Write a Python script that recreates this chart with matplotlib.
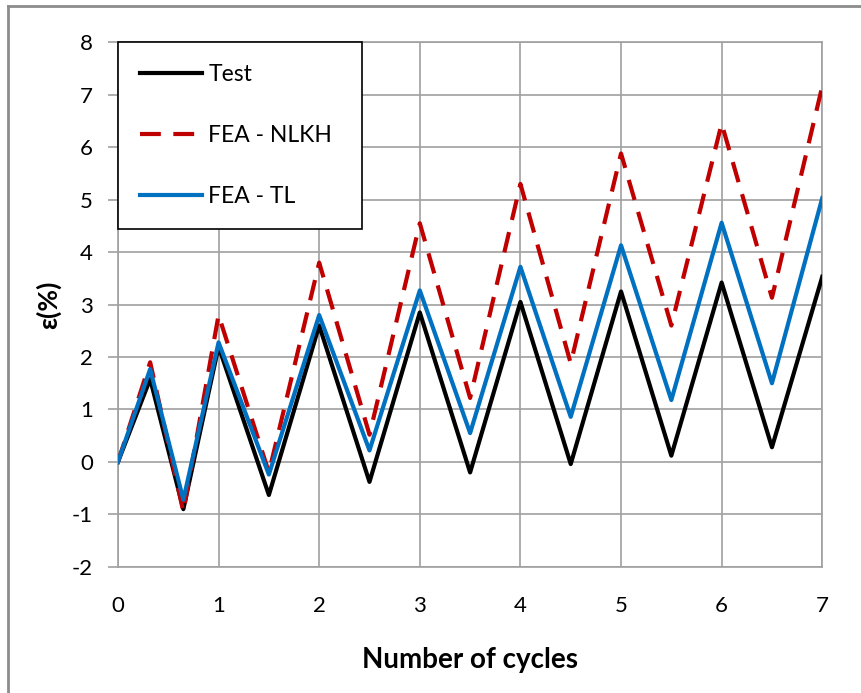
import matplotlib.pyplot as plt
from matplotlib.lines import Line2D

# cycles axis positions of the turning points
cycles = [0, 0.32, 0.65, 1.0, 1.5, 2.0, 2.5, 3.0, 3.5, 4.0, 4.5, 5.0, 5.5, 6.0, 6.5, 7.0]

# strain values (%)
test = [0, 1.58, -0.9, 2.2, -0.63, 2.6, -0.38, 2.85, -0.2, 3.05, -0.04, 3.25, 0.12, 3.42, 0.28, 3.53]
fea_nlkh = [0, 1.9, -0.95, 2.8, -0.2, 3.8, 0.52, 4.55, 1.22, 5.3, 1.88, 5.88, 2.6, 6.45, 3.13, 7.16]
fea_tl = [0, 1.77, -0.72, 2.28, -0.24, 2.8, 0.22, 3.27, 0.55, 3.72, 0.86, 4.13, 1.18, 4.56, 1.5, 5.03]

labels = ["Test", "FEA - NLKH", "FEA - TL"]
x_ticks = [0, 1, 2, 3, 4, 5, 6, 7]
y_ticks = [-2, -1, 0, 1, 2, 3, 4, 5, 6, 7, 8]

plt.rcParams['font.family'] = ['Lato', 'DejaVu Sans']
plt.rcParams['axes.unicode_minus'] = False

fig = plt.figure(figsize=(8.61, 6.93), dpi=100)
ax = fig.add_axes([0.137, 0.182, 0.818, 0.757])

ax.plot(cycles, test, color='black', linewidth=3, label=labels[0], zorder=3)
ax.plot(cycles, fea_nlkh, color='#C00000', linewidth=3, dashes=(5, 3), label=labels[1], zorder=4)
ax.plot(cycles, fea_tl, color='#0070C0', linewidth=3, label=labels[2], zorder=5)

ax.set_xlim(0, 7)
ax.set_ylim(-2, 8)
ax.set_xticks(x_ticks)
ax.set_yticks(y_ticks)
ax.grid(True, color='#a0a0a0', linewidth=1.2)
ax.set_axisbelow(True)
for s in ax.spines.values():
    s.set_color('#a0a0a0')
    s.set_linewidth(1.2)

ax.tick_params(axis='x', length=0, pad=21, labelsize=16)
ax.tick_params(axis='y', length=7, width=1.2, color='#a0a0a0', pad=11, labelsize=16)

ax.set_xlabel('Number of cycles', fontsize=20, fontweight='bold', labelpad=22)
ax.set_ylabel('ε(%)', fontsize=19, fontweight='bold', labelpad=8)

leg = ax.legend(loc='upper left', bbox_to_anchor=(0, 1, 0.347, 0), mode='expand',
                borderaxespad=0, fontsize=16.5, fancybox=False, framealpha=1,
                edgecolor='black', handlelength=2.7, handletextpad=0.3,
                labelspacing=1.75, borderpad=0.95)
leg.get_frame().set_linewidth(1.2)

# partial chart-area frame (left and top edges)
fig.add_artist(Line2D([0.0093, 0.0093], [0, 0.9913], transform=fig.transFigure,
                      color='#8c8c8c', linewidth=2))
fig.add_artist(Line2D([0.0093, 1], [0.9913, 0.9913], transform=fig.transFigure,
                      color='#8c8c8c', linewidth=2))

fig.savefig('out.png', dpi=100)
